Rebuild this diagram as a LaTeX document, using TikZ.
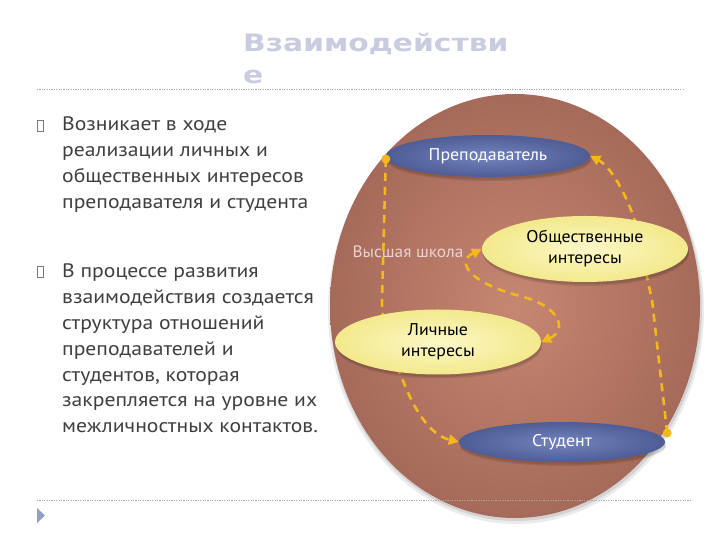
\documentclass[tikz,border=0pt]{standalone}
\usepackage{fontspec}
\setmainfont{PT Sans}
\newfontfamily\bodyf[FakeStretch=1.11]{PT Sans}
\newfontfamily\nodef[FakeStretch=1.05]{PT Sans}
\newfontfamily\titlef[FakeStretch=1.24]{DejaVu Sans}
\usetikzlibrary{shapes.geometric,arrows.meta,calc}
\definecolor{bgIn}{HTML}{C68772}
\definecolor{bgOut}{HTML}{A66A5A}
\definecolor{blueIn}{HTML}{7383BD}
\definecolor{blueOut}{HTML}{4E5D96}
\definecolor{yelIn}{HTML}{FCF8C8}
\definecolor{yelOut}{HTML}{F3E98C}
\definecolor{arrowc}{HTML}{F2B81C}
\definecolor{titlec}{HTML}{C9CBE0}
\definecolor{textc}{HTML}{3F3F3F}
\definecolor{labelc}{HTML}{EAD3CF}
\definecolor{dotline}{HTML}{A8A8A8}
\definecolor{markc}{HTML}{8FA0C4}
\pgfdeclarelayer{back}
\pgfdeclarelayer{mid}
\pgfsetlayers{back,mid,main}
\begin{document}
\begin{tikzpicture}[x=1pt,y=1pt,
  conn/.style={draw=arrowc, line width=2.6pt, dash pattern=on 8pt off 6pt},
  tipend/.style={-{Triangle[length=10pt,width=10pt]}},
  tipboth/.style={{Triangle[length=10pt,width=10pt]}-{Triangle[length=10pt,width=10pt]}},
  softshadow/.style={
    preaction={fill=black, fill opacity=0.10, transform canvas={xshift=1pt,yshift=-4pt}},
    preaction={fill=black, fill opacity=0.10, transform canvas={xshift=1pt,yshift=-2.5pt}}},
  bluenode/.style={ellipse, inner sep=0pt, inner color=blueIn, outer color=blueOut,
    text=white, font=\nodef\fontsize{17}{19}\selectfont, softshadow},
  yelnode/.style={ellipse, inner sep=0pt, inner color=yelIn, outer color=yelOut,
    text=black, align=center, font=\nodef\fontsize{17}{21}\selectfont, softshadow},
  bodytext/.style={anchor=base west, align=left, inner sep=0pt, text=textc,
    font=\bodyf\fontsize{19.5}{25.8}\selectfont},
  dotsep/.style={draw=dotline, line width=0.6pt, dash pattern=on 1.2pt off 1.2pt}
]
\useasboundingbox (0,0) rectangle (720,540);

% title
\node[anchor=base west, align=left, inner sep=0pt, text=titlec,
  font=\titlef\bfseries\fontsize{24}{32}\selectfont] (title) at (243,456) {Взаимодействи\\е};

% separators
\draw[dotsep] (37,451) -- (685,451);
\draw[dotsep] (37,40) -- (690,40);
\fill[markc] (37,32) -- (45,24.5) -- (37,17) -- cycle;

% bullets and text
\draw[draw=textc!70, line width=0.5pt] (37.5,409) rectangle (43.5,420);
\node[bodytext] (p1) at (62,331.6) {Возникает в ходе\\реализации личных и\\общественных интересов\\преподавателя и студента};
\draw[draw=textc!70, line width=0.5pt] (37.5,263) rectangle (43.5,274);
\node[bodytext] (p2) at (62,107.2) {В процессе развития\\взаимодействия создается\\структура отношений\\преподавателей и\\студентов, которая\\закрепляется на уровне их\\межличностных контактов.};

% big ellipse and blue nodes
\begin{pgfonlayer}{back}
\fill[black, fill opacity=0.08] (516,230) ellipse [x radius=188, y radius=214];
\fill[black, fill opacity=0.10] (516,231) ellipse [x radius=186, y radius=212];
\shade[inner color=bgIn, outer color=bgOut]
  (515,234) ellipse [x radius=185, y radius=212];
\node[bluenode, minimum width=204pt, minimum height=42pt] (pr) at (488,384) {Преподаватель};
\node[bluenode, minimum width=206pt, minimum height=40pt] (st) at (562,98) {Студент};
\node[text=labelc, font=\nodef\fontsize{16.5}{18}\selectfont, inner sep=0pt] (vs) at (408,288) {Высшая школа};
\end{pgfonlayer}

% yellow nodes
\node[yelnode, minimum width=206pt, minimum height=66pt] (ob) at (585,291) {Общественные\\интересы};
\node[yelnode, minimum width=206pt, minimum height=65pt] (li) at (438,198) {Личные\\интересы};

% connectors
\begin{pgfonlayer}{mid}
\coordinate (d1) at ($(pr.west)+(0,-3)$);
\coordinate (d2) at ($(st.east)+(2,9)$);
\draw[conn, tipend] (d1) -- (382,240) .. controls (383,190) and (395,178) .. (402,162)
  .. controls (414,130) and (430,105) .. (st.west);
\draw[conn, tipend] (d2) -- (652,240) -- (634,322)
  .. controls (625,348) and (610,374) .. (pr.east);
\draw[conn, tipboth] (li.east) .. controls (568,210) and (560,234) .. (520,244)
  .. controls (470,257) and (455,278) .. (ob.west);
\fill[arrowc] (d1) circle[radius=4.5];
\fill[arrowc] (d2) circle[radius=4.5];
\end{pgfonlayer}
\end{tikzpicture}
\end{document}
